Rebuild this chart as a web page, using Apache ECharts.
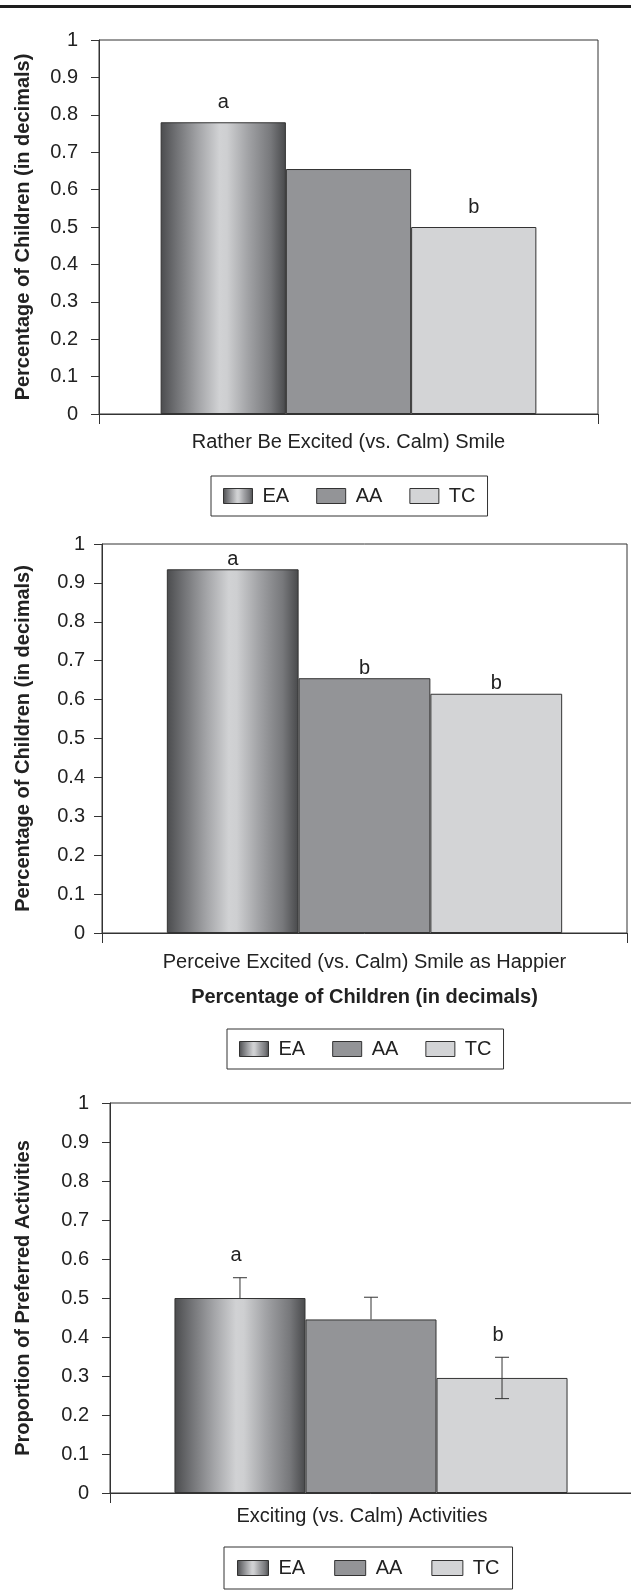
<!DOCTYPE html>
<html>
<head>
<meta charset="utf-8">
<script src="https://cdn.jsdelivr.net/npm/echarts@6/dist/echarts.min.js"></script>
<style>
  html, body { margin: 0; padding: 0; background: #ffffff; }
  #chart { width: 631px; height: 1590px; }
</style>
</head>
<body>
<div id="chart"></div>
<script>
// Groups of children compared in every panel
const groups = ['EA', 'AA', 'TC'];

// Panel 1: preference for an excited smile
const smileChoiceCategory = ['Rather Be Excited (vs. Calm) Smile'];
const smileChoiceValues = [0.78, 0.655, 0.50];
const smileChoiceLetters = ['a', '', 'b'];

// Panel 2: excited smile perceived as happier
const happierCategory = ['Perceive Excited (vs. Calm) Smile as Happier'];
const happierValues = [0.935, 0.655, 0.615];
const happierLetters = ['a', 'b', 'b'];

// Panel 3: preferred exciting activities, with error bars
const activityCategory = ['Exciting (vs. Calm) Activities'];
const activityValues = [0.50, 0.445, 0.295];
const activityErrors = [0.052, 0.057, 0.053];
const activityErrorBelow = [false, false, true];
const activityLetters = ['a', '', 'b'];

// Value axis tick labels (0 to 1 in steps of 0.1)
const yTickLabels = ['0', '0.1', '0.2', '0.3', '0.4', '0.5', '0.6', '0.7', '0.8', '0.9', '1'];

const yTitleChildren = 'Percentage of Children (in decimals)';
const yTitleActivities = 'Proportion of Preferred Activities';

const FONT = '"Liberation Sans", Arial, Helvetica, sans-serif';
const INK = '#222222';
const LINE = '#333333';
const GAP_RATIO = 0.247;

const cylinderFill = {
  type: 'linear', x: 0, y: 0, x2: 1, y2: 0,
  colorStops: [
    { offset: 0.00, color: '#4b4c4e' },
    { offset: 0.12, color: '#6f7073' },
    { offset: 0.30, color: '#a3a4a7' },
    { offset: 0.47, color: '#d1d2d4' },
    { offset: 0.53, color: '#cecfd1' },
    { offset: 0.70, color: '#a1a2a5' },
    { offset: 0.88, color: '#77787b' },
    { offset: 1.00, color: '#48494b' }
  ]
};
const fills = [cylinderFill, '#939497', '#d3d4d6'];

const grids = [
  { left: 99, top: 40, width: 499, height: 374 },
  { left: 102, top: 544, width: 525, height: 389 },
  { left: 110, top: 1103, width: 522, height: 390 }
].map(g => Object.assign({
  show: true, borderColor: LINE, borderWidth: 1,
  backgroundColor: 'transparent', containLabel: false, outerBoundsMode: 'none'
}, g));

function xAxis(gridIndex, data, margin, extra) {
  return Object.assign({
    type: 'category', gridIndex, data, boundaryGap: true,
    axisLine: { show: true, lineStyle: { color: LINE, width: 1 } },
    axisTick: { show: true, length: 10, lineStyle: { color: LINE, width: 1 } },
    axisLabel: { fontSize: 20, color: INK, fontFamily: FONT, margin },
    splitLine: { show: false }
  }, extra || {});
}

function yAxis(gridIndex, name, labelMargin, nameGap) {
  return {
    type: 'value', gridIndex, min: 0, max: 1, interval: 0.1,
    axisLine: { show: true, lineStyle: { color: LINE, width: 1 } },
    axisTick: { show: true, length: 8, lineStyle: { color: LINE, width: 1 } },
    axisLabel: {
      fontSize: 20, color: INK, fontFamily: FONT, margin: labelMargin,
      formatter: v => yTickLabels[Math.round(v * 10)]
    },
    splitLine: { show: false },
    name, nameLocation: 'middle', nameRotate: 90, nameGap,
    nameTextStyle: { fontSize: 20, fontWeight: 'bold', color: INK, fontFamily: FONT }
  };
}

function barSeries(panel, values, letters, labelDistance) {
  return groups.map((g, i) => ({
    type: 'bar', name: g, xAxisIndex: panel, yAxisIndex: panel,
    barGap: '0%', barCategoryGap: (GAP_RATIO * 100) + '%',
    data: [values[i]],
    itemStyle: { color: fills[i], borderColor: LINE, borderWidth: 1 },
    label: {
      show: !!(letters && letters[i]), position: 'top', distance: labelDistance,
      formatter: letters ? letters[i] : '', fontSize: 20, color: INK, fontFamily: FONT
    },
    emphasis: { disabled: true },
    silent: true
  }));
}

function legend(left, top, itemWidth, itemGap, padding) {
  return {
    left, top, orient: 'horizontal', padding, itemWidth, itemHeight: 15, itemGap,
    icon: 'rect', selectedMode: false,
    borderColor: LINE, borderWidth: 1,
    itemStyle: { borderColor: LINE, borderWidth: 1 },
    textStyle: { fontSize: 20, color: INK, fontFamily: FONT, padding: [0, 0, 0, 5] },
    data: groups
  };
}

// Error whiskers and significance letters for panel 3
const errorSeries = {
  type: 'custom', xAxisIndex: 2, yAxisIndex: 2, clip: false, silent: true, z: 10,
  encode: { x: 0, y: 1 },
  data: activityValues.map((v, i) => [0, v, activityErrors[i], activityErrorBelow[i] ? 1 : 0, i]),
  renderItem(params, api) {
    const v = api.value(1), e = api.value(2), below = api.value(3), idx = api.value(4);
    const band = api.size([1, 0])[0];
    const barW = band * (1 - GAP_RATIO) / groups.length;
    const base = api.coord([0, v]);
    const cx = base[0] + (idx - (groups.length - 1) / 2) * barW;
    const top = api.coord([0, v + e])[1];
    const bottom = below ? api.coord([0, v - e])[1] : base[1];
    const cap = 7;
    const lineStyle = { stroke: LINE, lineWidth: 1 };
    const children = [
      { type: 'line', shape: { x1: cx, y1: top, x2: cx, y2: bottom }, style: lineStyle },
      { type: 'line', shape: { x1: cx - cap, y1: top, x2: cx + cap, y2: top }, style: lineStyle }
    ];
    if (below) {
      children.push({ type: 'line', shape: { x1: cx - cap, y1: bottom, x2: cx + cap, y2: bottom }, style: lineStyle });
    }
    const letter = activityLetters[idx];
    if (letter) {
      children.push({
        type: 'text',
        style: {
          text: letter, x: cx - 4, y: top - 12, fill: INK, fontSize: 20, fontFamily: FONT,
          align: 'center', verticalAlign: 'bottom'
        }
      });
    }
    return { type: 'group', children };
  }
};

const option = {
  animation: false,
  backgroundColor: '#ffffff',
  textStyle: { fontFamily: FONT },
  graphic: [
    { type: 'rect', shape: { x: 0, y: 5, width: 631, height: 3 }, style: { fill: '#1e1e1e' } }
  ],
  grid: grids,
  xAxis: [
    xAxis(0, smileChoiceCategory, 18),
    xAxis(1, happierCategory, 19, {
      name: yTitleChildren, nameLocation: 'middle', nameGap: 54,
      nameTextStyle: { fontSize: 20, fontWeight: 'bold', color: INK, fontFamily: FONT }
    }),
    xAxis(2, activityCategory, 13, {})
  ],
  yAxis: [
    yAxis(0, yTitleChildren, 21, 66),
    yAxis(1, yTitleChildren, 17, 69),
    yAxis(2, yTitleActivities, 21, 77)
  ],
  legend: [
    legend(211, 476, 29, 27, [10, 12]),
    legend(227, 1029, 29, 27, [10, 12]),
    legend(224, 1547, 31, 29, [11, 13])
  ],
  series: [
    ...barSeries(0, smileChoiceValues, smileChoiceLetters, 10),
    ...barSeries(1, happierValues, happierLetters, 0),
    ...barSeries(2, activityValues, null, 0),
    errorSeries
  ]
};

// Shift the third category label slightly left of the band centre
option.xAxis[2].axisLabel.padding = [0, 18, 0, 0];

const chart = echarts.init(document.getElementById('chart'), null, { renderer: 'canvas' });
chart.setOption(option);
</script>
</body>
</html>
